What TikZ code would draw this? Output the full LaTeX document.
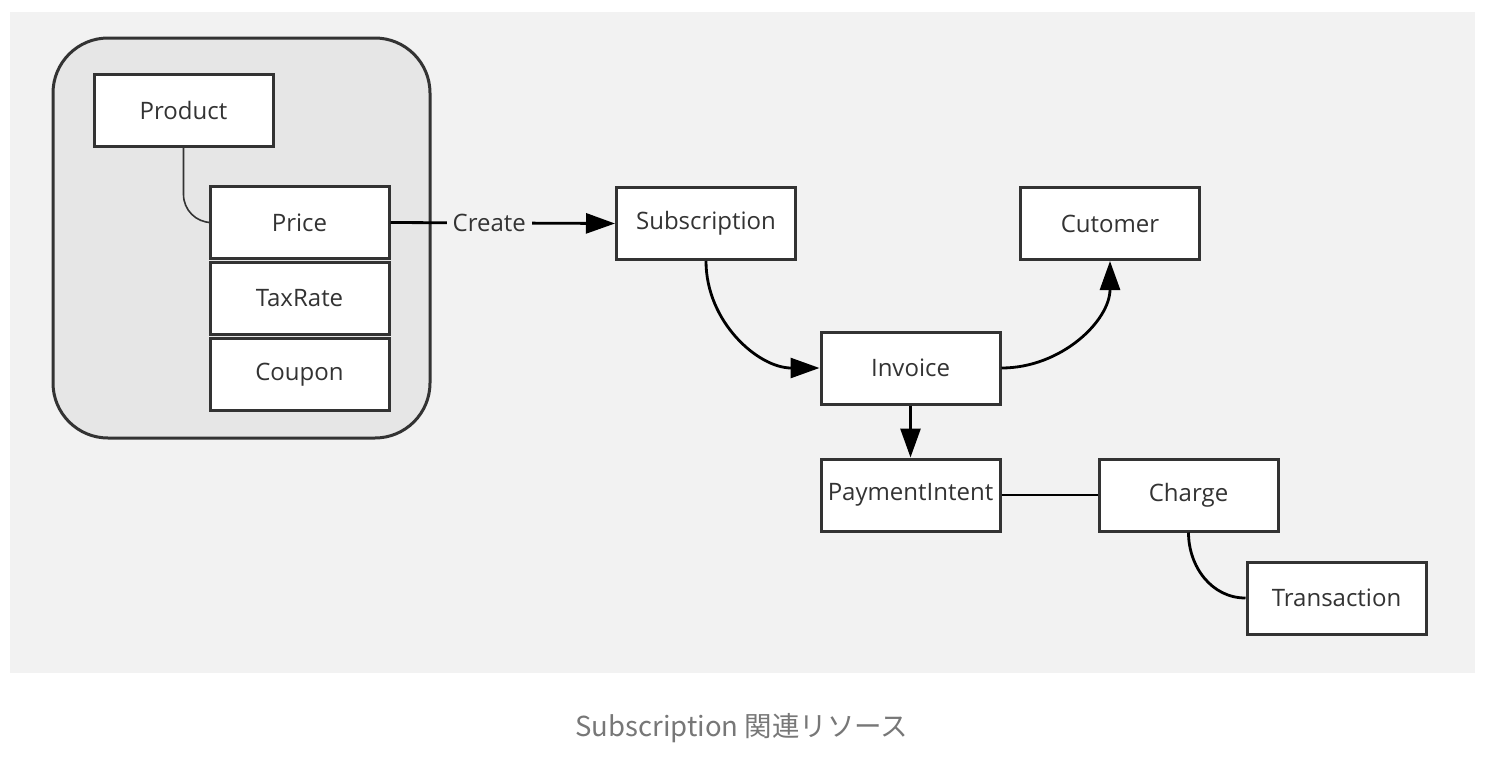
\documentclass[tikz,border=0pt]{standalone}
\usepackage{fontspec}
\setmainfont{Open Sans}
\newfontfamily\cjkfont{Noto Sans CJK JP}
\usetikzlibrary{arrows.meta}

\definecolor{panelgray}{HTML}{F2F2F2}
\definecolor{groupgray}{HTML}{E6E6E6}
\definecolor{edgegray}{HTML}{333333}
\definecolor{textgray}{HTML}{333333}
\definecolor{captiongray}{HTML}{777777}

\begin{document}
\begin{tikzpicture}[x=1pt, y=-1pt,
    >={Triangle[length=29pt,width=20pt]},
    entity/.style={draw=edgegray, line width=3pt, fill=white, text=textgray,
        minimum width=179pt, minimum height=72pt, inner sep=0pt,
        font=\fontsize{24}{27}\selectfont},
    link/.style={line width=2.8pt, black},
    thinlink/.style={line width=1.6pt, edgegray}]

    % Page and panel
    \useasboundingbox (0,0) rectangle (1502,774);
    \fill[panelgray] (10,12) rectangle (1475,673);

    % Price group
    \draw[draw=edgegray, line width=3pt, fill=groupgray, rounded corners=55pt]
        (53,38) rectangle (430,438);

    % Entities
    \node[entity] (product) at (183.5,110) {Product};
    \node[entity] (price) at (299.5,222.5) {Price};
    \node[entity] (taxrate) at (299.5,298.5) {TaxRate};
    \node[entity] (coupon) at (299.5,374.5) {Coupon};
    \node[entity] (subscription) at (706,223.5) {Subscription};
    \node[entity] (customer) at (1110,223.5) {Cutomer};
    \node[entity] (invoice) at (910.5,368) {Invoice};
    \node[entity] (paymentintent) at (910.5,495) {PaymentIntent};
    \node[entity] (charge) at (1188.5,495) {Charge};
    \node[entity] (transaction) at (1336.5,598) {Transaction};

    % Connectors
    \draw[thinlink, rounded corners=28pt] (product.south) |- (price.west);
    \draw[link, ->] (price.east) -- node[pos=0.44, fill=panelgray, text=textgray,
        inner xsep=6pt, font=\fontsize{24}{27}\selectfont] {Create} (subscription.west);
    \draw[link, ->] (subscription.south) to[out=-90, in=180] (invoice.west);
    \draw[link, ->] (invoice.east) to[out=0, in=-90] (customer.south);
    \draw[link, ->] (invoice.south) -- (paymentintent.north);
    \draw[link] (paymentintent.east) -- (charge.west);
    \draw[link] (charge.south) to[out=-90, in=180] (transaction.west);

    % Caption
    \node[text=captiongray, font=\cjkfont\fontsize{27.5}{31}\selectfont] (caption)
        at (742,728) {Subscription 関連リソース};
\end{tikzpicture}
\end{document}
